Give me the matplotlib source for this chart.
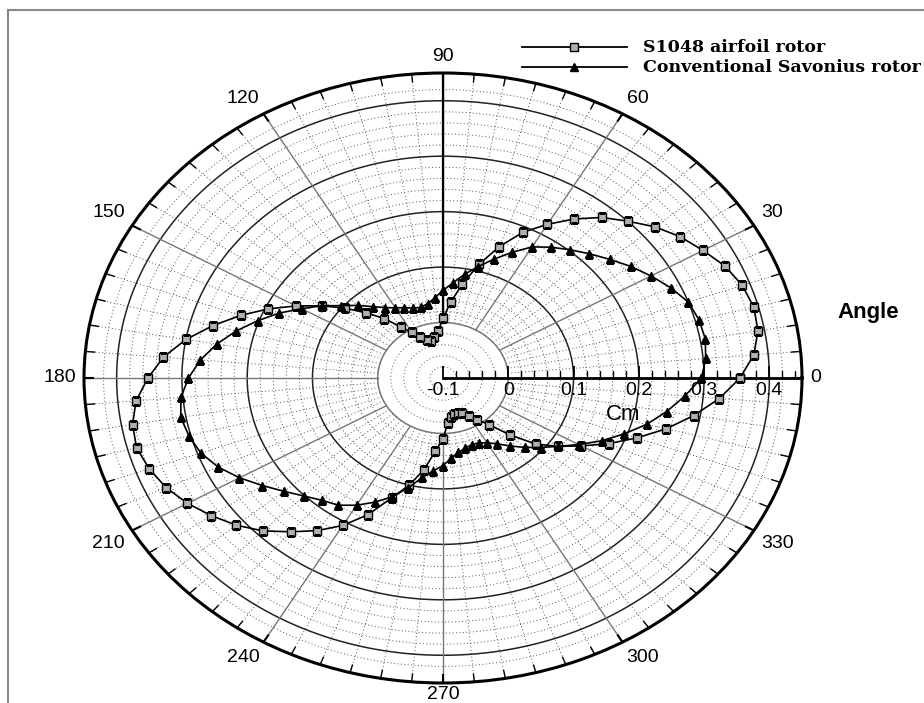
import numpy as np
import matplotlib
matplotlib.use('Agg')
import matplotlib.pyplot as plt
from matplotlib.lines import Line2D
from matplotlib.patches import Rectangle

plt.rcParams['font.family'] = ['Liberation Sans', 'DejaVu Sans']

# rotor angle (deg) and moment coefficient Cm
angles_deg = list(range(0, 360, 5))
cm_s1048 = [0.355, 0.378, 0.390, 0.393, 0.388, 0.377, 0.360, 0.344, 0.324, 0.300,
            0.278, 0.250, 0.220, 0.190, 0.152, 0.112, 0.072, 0.038, 0.008, -0.015,
            -0.025, -0.030, -0.028, -0.018, -0.005, 0.012, 0.040, 0.066, 0.096, 0.127,
            0.160, 0.195, 0.230, 0.265, 0.300, 0.330, 0.352, 0.372, 0.383, 0.386,
            0.379, 0.368, 0.352, 0.333, 0.313, 0.290, 0.262, 0.236, 0.207, 0.172,
            0.130, 0.100, 0.068, 0.032, 0.010, -0.018, -0.028, -0.032, -0.032, -0.030,
            -0.020, -0.008, 0.010, 0.045, 0.085, 0.115, 0.145, 0.180, 0.216, 0.254,
            0.290, 0.325]
cm_conv = [0.296, 0.304, 0.308, 0.306, 0.300, 0.285, 0.268, 0.251, 0.233, 0.217,
           0.202, 0.188, 0.173, 0.150, 0.128, 0.108, 0.090, 0.072, 0.058, 0.045,
           0.036, 0.032, 0.034, 0.040, 0.046, 0.055, 0.068, 0.085, 0.103, 0.127,
           0.150, 0.177, 0.202, 0.228, 0.252, 0.273, 0.290, 0.303, 0.308, 0.303,
           0.295, 0.280, 0.260, 0.238, 0.218, 0.201, 0.188, 0.180, 0.165, 0.147,
           0.128, 0.105, 0.082, 0.068, 0.058, 0.045, 0.036, 0.031, 0.028, 0.029,
           0.035, 0.045, 0.060, 0.077, 0.095, 0.115, 0.140, 0.168, 0.195, 0.223,
           0.248, 0.272]

angle_ticks = list(range(0, 360, 30))
angle_labels = [str(a) for a in angle_ticks]
r_ticks = [-0.1, 0.0, 0.1, 0.2, 0.3, 0.4]
r_labels = ['-0.1', '0', '0.1', '0.2', '0.3', '0.4']
rmin, rmax = -0.1, 0.45

fig = plt.figure(figsize=(9.24, 7.03), dpi=100)
ax = fig.add_axes([84 / 924, 20 / 703, 718 / 924, 610 / 703], projection='polar')
ax.set_aspect('auto')
ax.set_ylim(rmin, rmax)
ax.set_xticks([])
ax.set_yticks([])
ax.grid(False)
ax.spines['polar'].set_linewidth(2.2)

t = np.linspace(0, 2 * np.pi, 721)

# minor dotted circles
for r in np.arange(-0.08, 0.44, 0.02):
    if abs(r / 0.1 - round(r / 0.1)) < 1e-6:
        continue
    ax.plot(t, np.full_like(t, r), color='#555555', lw=0.7, ls=(0, (1, 2.5)), zorder=1)

# major circles
for r in [0.0, 0.1, 0.2, 0.3, 0.4]:
    col = '#777777' if r == 0 else '#222222'
    ax.plot(t, np.full_like(t, r), color=col, lw=1.1, zorder=2)

# spokes
for a in range(0, 360, 5):
    th = np.deg2rad(a)
    if a % 30 == 0:
        ax.plot([th, th], [0, rmax], color='#777777', lw=1.0, zorder=2)
    else:
        ax.plot([th, th], [0, rmax], color='#555555', lw=0.7, ls=(0, (1, 2.5)), zorder=1)
    # ticks on the outer rim
    ax.plot([th, th], [rmax - 0.014, rmax], color='k', lw=1.5 if a % 30 == 0 else 1.0, zorder=3)

# axis lines
ax.plot([0, 0], [rmin, rmax], color='k', lw=2.0, zorder=3)
ax.plot([np.pi / 2, np.pi / 2], [0, rmax], color='k', lw=1.6, zorder=3)

minor_r = [r for r in np.arange(-0.1, 0.45, 0.02) if abs(r / 0.1 - round(r / 0.1)) > 1e-6]
ax.plot(np.zeros(len(minor_r)), minor_r, ls='none', marker=2, ms=5, mew=1.0, color='k', zorder=4)
ax.plot(np.zeros(len(r_ticks)), r_ticks, ls='none', marker=2, ms=9, mew=1.3, color='k', zorder=4)

for r, lab in zip(r_ticks, r_labels):
    ax.annotate(lab, xy=(0, r), xytext=(0, -3), textcoords='offset points',
                ha='center', va='top', fontsize=14, annotation_clip=False)
ax.annotate('Cm', xy=(0, 0.176), xytext=(0, -19), textcoords='offset points',
            ha='center', va='top', fontsize=16, annotation_clip=False)

# angle labels
for a, lab in zip(angle_ticks, angle_labels):
    th = np.deg2rad(a)
    c, s = np.cos(th), np.sin(th)
    ha = 'left' if c > 0.3 else ('right' if c < -0.3 else 'center')
    va = 'bottom' if s > 0.3 else ('top' if s < -0.3 else 'center')
    d = 2 if a == 270 else 6
    ax.annotate(lab, xy=(th, rmax), xytext=(d * c, d * s), textcoords='offset points',
                ha=ha, va=va, fontsize=14, annotation_clip=False)

# data curves
th_s = np.deg2rad(angles_deg + [360])
ax.plot(th_s, cm_s1048 + [cm_s1048[0]], color='k', lw=1.2, marker='s', ms=6,
        mfc='#b0b0b0', mec='k', mew=1.0, zorder=6)
ax.plot(th_s, cm_conv + [cm_conv[0]], color='k', lw=1.2, marker='^', ms=6,
        mfc='k', mec='k', zorder=6)

fig.text(868 / 924, 1 - 312 / 703, 'Angle', fontsize=16, fontweight='bold',
         ha='center', va='center')

# legend
for i, (lab, mk, mfc) in enumerate([('S1048 airfoil rotor', 's', '#b0b0b0'),
                                     ('Conventional Savonius rotor', '^', 'k')]):
    y = 1 - (47 + 20 * i) / 703
    fig.add_artist(Line2D([522 / 924, 627 / 924], [y, y], color='k', lw=1.3))
    fig.add_artist(Line2D([574 / 924], [y], marker=mk, ms=6, mfc=mfc, mec='k', color='k'))
    fig.text(643 / 924, y, lab, fontsize=12.5, fontweight='bold', family='DejaVu Serif',
             ha='left', va='center')

fig.add_artist(Rectangle((8 / 924, -0.05), 1.0, 0.05 + 1 - 10 / 703, transform=fig.transFigure,
                         fill=False, ec='#888888', lw=1.5))

fig.savefig('out.png', dpi=100)
